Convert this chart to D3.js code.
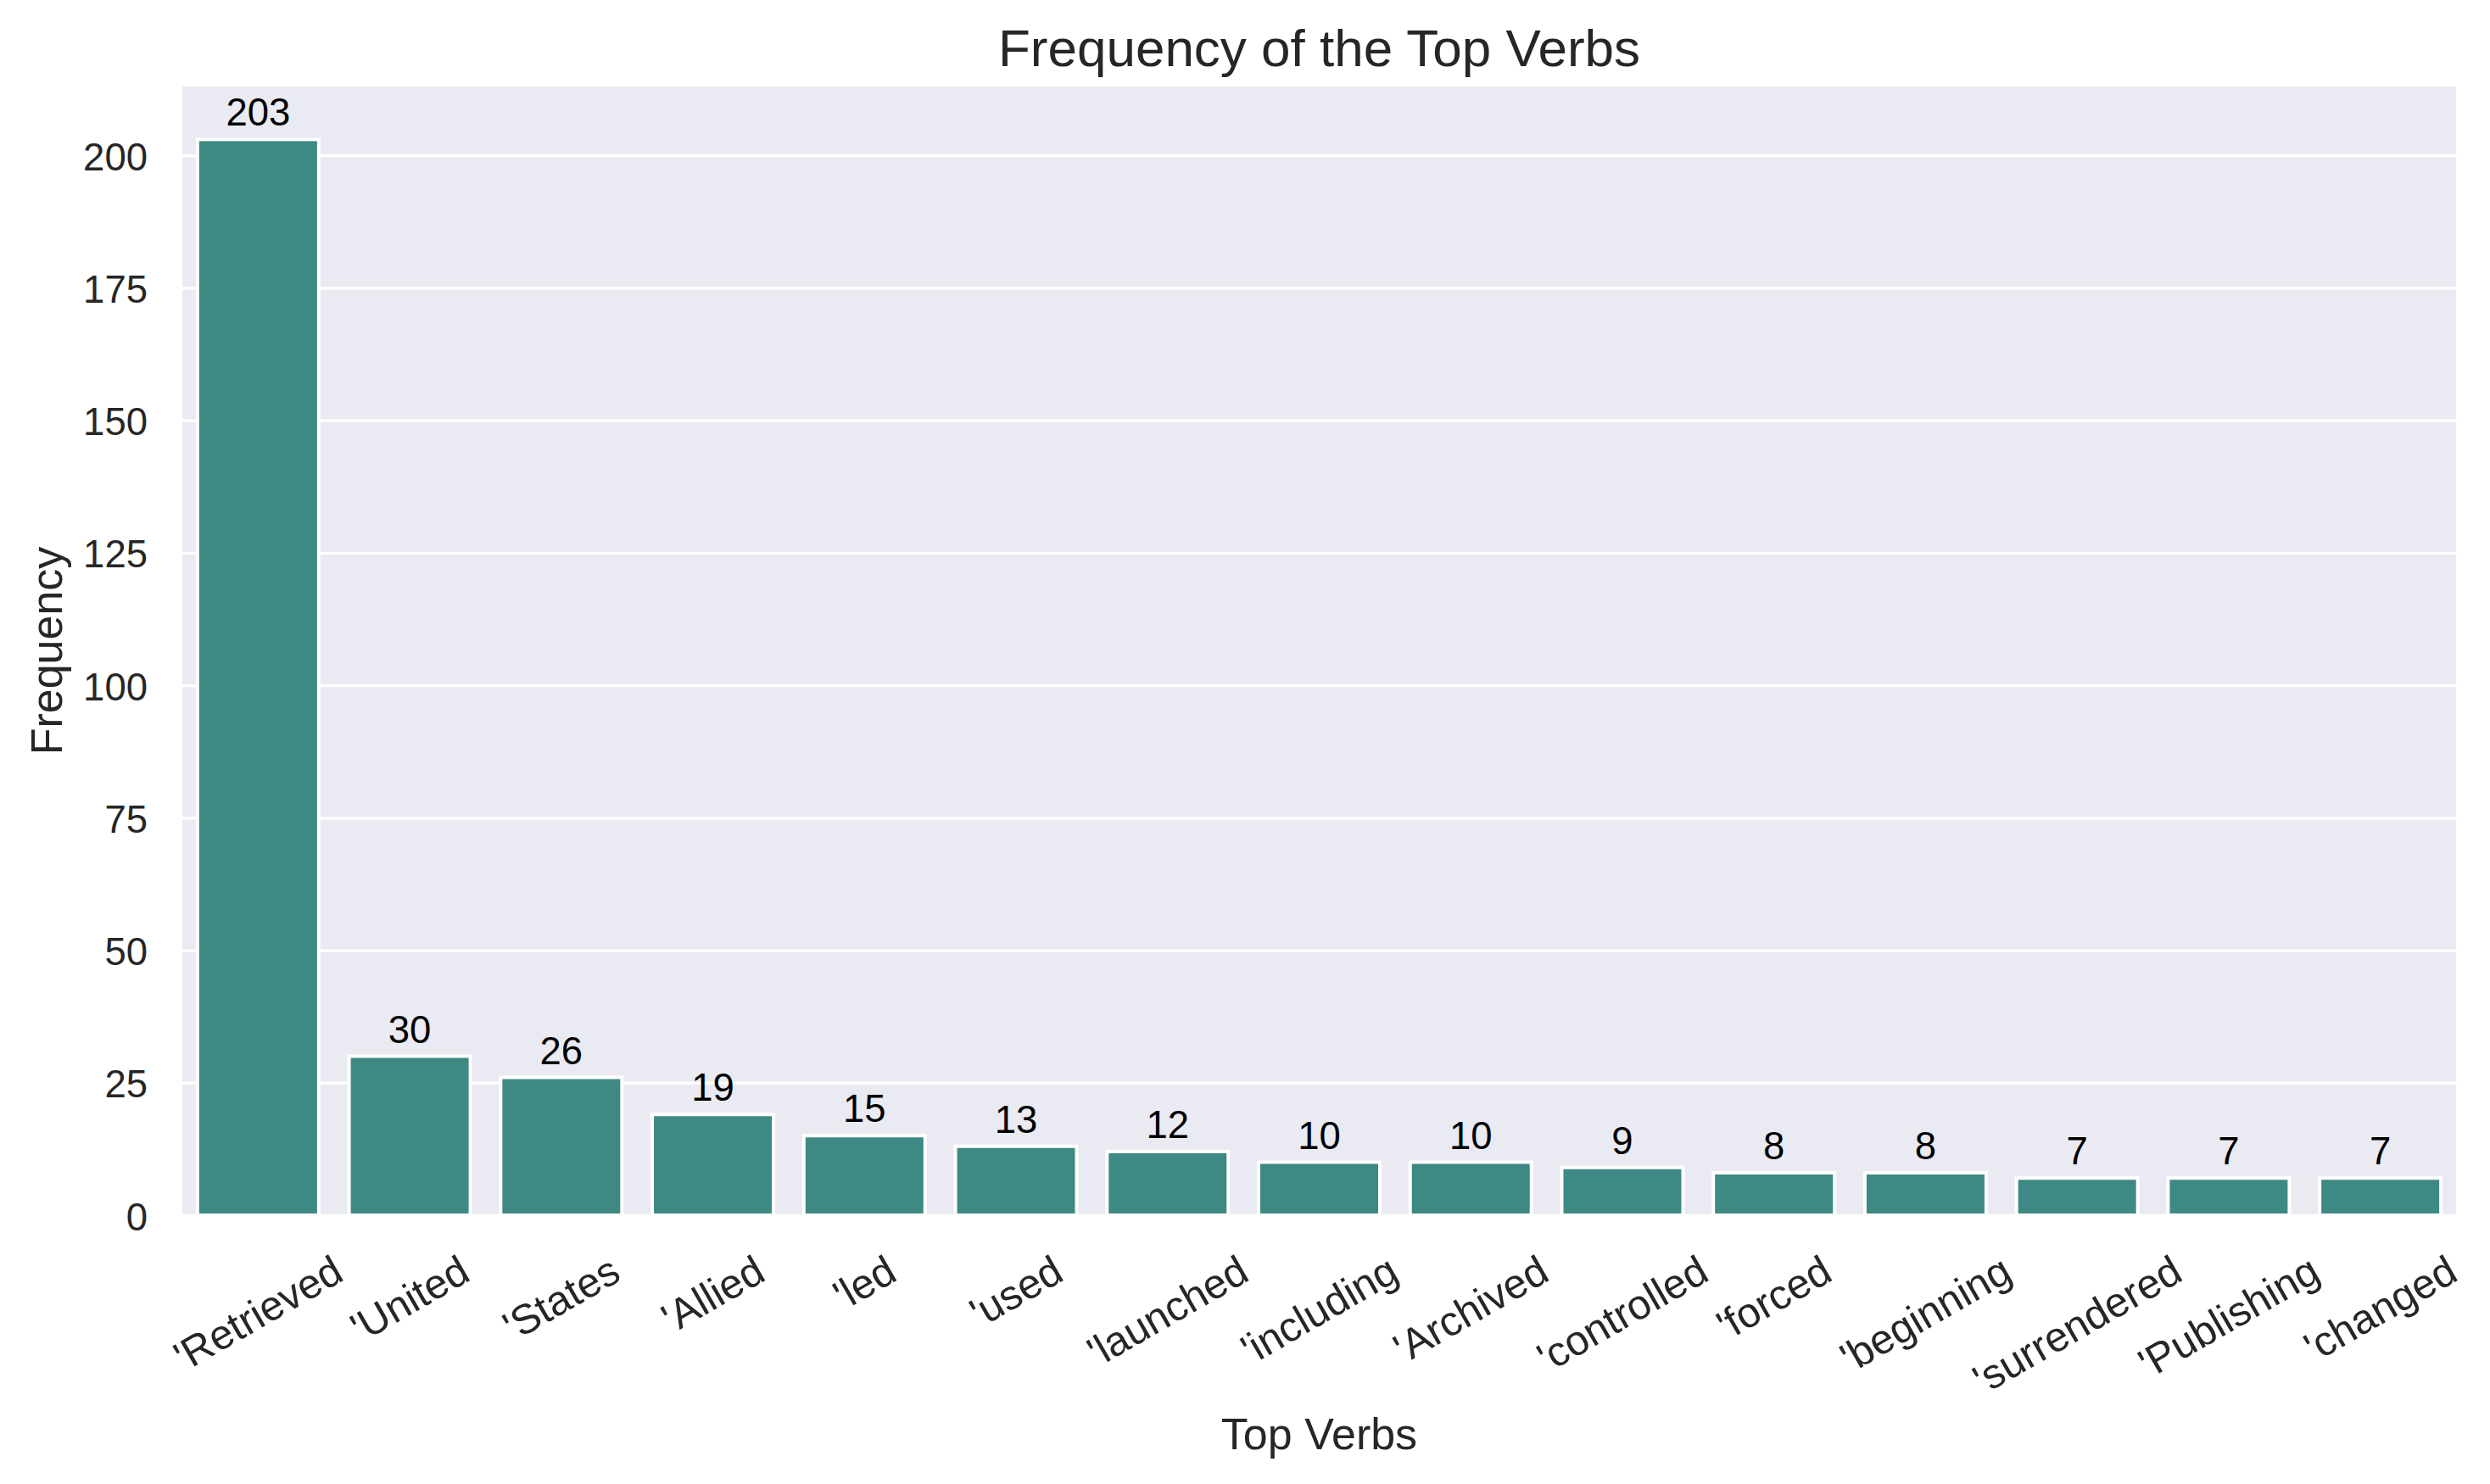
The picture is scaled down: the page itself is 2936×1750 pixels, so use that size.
<!DOCTYPE html>
<html>
<head>
<meta charset="utf-8">
<script src="https://cdn.jsdelivr.net/npm/d3@7"></script>
<style>
  html, body { margin: 0; padding: 0; background: #ffffff; }
  svg { display: block; }
  text { font-family: "Liberation Sans", Arial, sans-serif; }
</style>
</head>
<body>
<svg id="chart" width="2936" height="1750"></svg>
<script>
// ---- data ----
const categories = ["'Retrieved", "'United", "'States", "'Allied", "'led", "'used", "'launched",
  "'including", "'Archived", "'controlled", "'forced", "'beginning", "'surrendered", "'Publishing", "'changed"];
const frequencies = [203, 30, 26, 19, 15, 13, 12, 10, 10, 9, 8, 8, 7, 7, 7];
const yTicks = [0, 25, 50, 75, 100, 125, 150, 175, 200];
const titleText = "Frequency of the Top Verbs";
const xLabelText = "Top Verbs";
const yLabelText = "Frequency";

// ---- layout ----
const plot = { left: 215, right: 2896, top: 102, bottom: 1433 };
const barColor = "#3e8983";
const bgColor = "#eaeaf2";
const textColor = "#262626";
const fsTick = 45.5, fsXTick = 49, fsLabel = 52, fsTitle = 62;

const svg = d3.select("#chart");

const x = d3.scaleBand().domain(categories).range([plot.left, plot.right])
  .paddingInner(0.2).paddingOuter(0.1);
const yMax = d3.max(frequencies) * 1.05;
const y = d3.scaleLinear().domain([0, yMax]).range([plot.bottom, 101]);

// background
svg.append("rect")
  .attr("x", plot.left).attr("y", plot.top)
  .attr("width", plot.right - plot.left).attr("height", plot.bottom - plot.top)
  .attr("fill", bgColor);

// horizontal grid + y tick labels via axis
const yAxis = d3.axisLeft(y).tickValues(yTicks).tickSize(-(plot.right - plot.left)).tickPadding(0).tickFormat(d3.format("d"));
const gy = svg.append("g").attr("transform", `translate(${plot.left},0)`).call(yAxis);
gy.select(".domain").remove();
gy.selectAll(".tick line").attr("stroke", "#ffffff").attr("stroke-width", 3.3);
gy.selectAll(".tick text")
  .attr("x", -(plot.left - 174))
  .attr("dy", null)
  .attr("y", 17)
  .attr("text-anchor", "end")
  .attr("fill", textColor)
  .style("font-size", fsTick + "px")
  .style("font-family", "'Liberation Sans', Arial, sans-serif");

// bars
svg.append("g").selectAll("rect").data(frequencies).join("rect")
  .attr("x", (d, i) => x(categories[i]))
  .attr("y", d => y(d))
  .attr("width", x.bandwidth())
  .attr("height", d => y(0) - y(d))
  .attr("fill", barColor)
  .attr("stroke", "#ffffff")
  .attr("stroke-width", 4);

// value labels
svg.append("g").selectAll("text").data(frequencies).join("text")
  .attr("x", (d, i) => x(categories[i]) + x.bandwidth() / 2)
  .attr("y", d => y(d) - 16)
  .attr("text-anchor", "middle")
  .attr("fill", "#000000")
  .style("font-size", fsTick + "px")
  .text(d => d);

// x tick labels rotated 30°, centered on tick, top aligned (matplotlib style)
const P = 37;
const gx = svg.append("g");
gx.selectAll("text").data(categories).join("text")
  .attr("text-anchor", "middle")
  .attr("fill", textColor)
  .style("font-size", fsXTick + "px")
  .attr("x", 0)
  .attr("y", 0.3465 * fsXTick)
  .text(d => d)
  .each(function (d) {
    const w = this.getComputedTextLength();
    const h = 1.117 * fsXTick;
    const Hb = w * 0.5 + h * Math.cos(Math.PI / 6);
    const cx = x(d) + x.bandwidth() / 2;
    const cy = plot.bottom + P + Hb / 2;
    d3.select(this).attr("transform", `translate(${cx},${cy}) rotate(-30)`);
  });

// axis labels
svg.append("text")
  .attr("x", (216 + 2895) / 2).attr("y", 1709)
  .attr("text-anchor", "middle").attr("fill", textColor)
  .style("font-size", fsLabel + "px")
  .text(xLabelText);

svg.append("text")
  .attr("transform", `translate(73,${(plot.top + plot.bottom) / 2}) rotate(-90)`)
  .attr("text-anchor", "middle").attr("fill", textColor)
  .style("font-size", fsLabel + "px")
  .text(yLabelText);

// title
svg.append("text")
  .attr("x", (216 + 2895) / 2).attr("y", 78)
  .attr("text-anchor", "middle").attr("fill", textColor)
  .style("font-size", fsTitle + "px")
  .text(titleText);
</script>
</body>
</html>
